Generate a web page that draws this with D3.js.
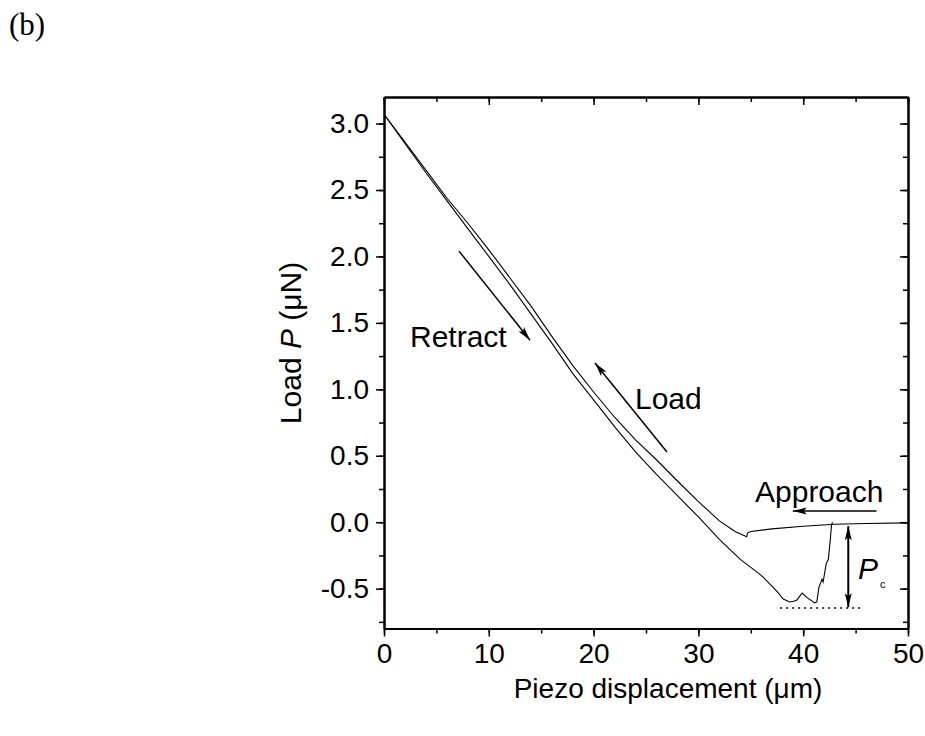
<!DOCTYPE html>
<html>
<head>
<meta charset="utf-8">
<script src="https://cdn.jsdelivr.net/npm/d3@7"></script>
<style>
  body { margin: 0; background: #fff; }
  text { font-family: "Liberation Sans", Arial, sans-serif; }
</style>
</head>
<body>
<div id="chart"></div>
<script>
// load curve (approach + loading), read right to left
let loadX = [50, 46, 43, 40, 37, 35, 34.7, 34.6, 33.5, 32, 30, 28, 26, 24, 22, 20, 18, 16, 14, 12, 10, 8, 6, 4, 2, 0]
let loadY = [-0.005, -0.01, -0.015, -0.03, -0.05, -0.07, -0.08, -0.11, -0.07, 0.01, 0.155, 0.31, 0.47, 0.62, 0.79, 0.98, 1.18, 1.40, 1.63, 1.84, 2.05, 2.25, 2.44, 2.65, 2.86, 3.07]

// retract curve, left to right
let retractX = [0, 2, 4, 6, 8, 10, 12, 14, 16, 18, 20, 22, 24, 26, 28, 30, 32, 34, 36, 37.5, 38.1, 38.7, 39.1, 39.4, 39.9, 40.4, 41.1, 41.3, 41.5, 41.8, 41.9, 42.2, 42.4, 42.6, 42.7, 42.8]
let retractY = [3.07, 2.85, 2.63, 2.42, 2.21, 2.0, 1.79, 1.57, 1.35, 1.12, 0.92, 0.72, 0.53, 0.36, 0.2, 0.04, -0.13, -0.28, -0.40, -0.52, -0.578, -0.60, -0.595, -0.585, -0.533, -0.57, -0.607, -0.60, -0.49, -0.43, -0.45, -0.31, -0.28, -0.12, -0.02, 0.0]

let xTicks = [0, 10, 20, 30, 40, 50]
let yTicks = [-0.5, 0.0, 0.5, 1.0, 1.5, 2.0, 2.5, 3.0]

// arrows: [x1, y1, x2, y2] in data units, head at x2,y2
let retractArrow = [7.16, 2.04, 13.93, 1.37]
let loadArrow = [27.0, 0.528, 20.13, 1.198]
let approachArrow = [47.0, 0.084, 39.0, 0.084]
let pcArrow = [44.3, -0.03, 44.3, -0.64]
let pcBase = [37.8, 45.7, -0.646]

let width = 925
let height = 736

let svg = d3.select('#chart')
            .append('svg')
            .attr('width', width)
            .attr('height', height)

let x = d3.scaleLinear()
          .domain([0, 50])
          .range([384, 908])
let y = d3.scaleLinear()
          .domain([-0.8, 3.2])
          .range([628.5, 97])

let minorX = d3.range(0, 50.1, 5)
let minorY = d3.range(-0.75, 3.21, 0.25)

function styleAxis(g) {
    g.select('.domain').attr('stroke-width', 2)
    g.selectAll('.tick line').attr('stroke-width', 1.5)
    g.selectAll('.tick text').style('font-size', '28px').attr('fill', '#000')
}

// minor ticks first
svg.append('g')
    .attr('transform', 'translate(0,628.5)')
    .call(d3.axisBottom(x).tickValues(minorX).tickSize(5).tickFormat('').tickSizeOuter(0))
    .call(styleAxis)
svg.append('g')
    .attr('transform', 'translate(384,0)')
    .call(d3.axisLeft(y).tickValues(minorY).tickSize(5).tickFormat('').tickSizeOuter(0))
    .call(styleAxis)
svg.append('g')
    .attr('transform', 'translate(0,97)')
    .call(d3.axisTop(x).tickValues(minorX).tickSize(-5).tickFormat('').tickSizeOuter(0))
    .call(styleAxis)
svg.append('g')
    .attr('transform', 'translate(908,0)')
    .call(d3.axisRight(y).tickValues(minorY).tickSize(-5).tickFormat('').tickSizeOuter(0))
    .call(styleAxis)

// major ticks
svg.append('g')
    .attr('transform', 'translate(0,628.5)')
    .call(d3.axisBottom(x).tickValues(xTicks).tickSize(8).tickPadding(7).tickFormat(d3.format('d')).tickSizeOuter(0))
    .call(styleAxis)
svg.append('g')
    .attr('transform', 'translate(384,0)')
    .call(d3.axisLeft(y).tickValues(yTicks).tickSize(8).tickPadding(7).tickFormat(d3.format('.1f')).tickSizeOuter(0))
    .call(styleAxis)
svg.append('g')
    .attr('transform', 'translate(0,97)')
    .call(d3.axisTop(x).tickValues(xTicks).tickSize(-8).tickFormat('').tickSizeOuter(0))
    .call(styleAxis)
svg.append('g')
    .attr('transform', 'translate(908,0)')
    .call(d3.axisRight(y).tickValues(yTicks).tickSize(-8).tickFormat('').tickSizeOuter(0))
    .call(styleAxis)

// use hyphen-minus like the original
svg.selectAll('.tick text').text(function() { return d3.select(this).text().replace('\u2212', '-') })

// curves
let line = d3.line()
    .x(d => x(d[0]))
    .y(d => y(d[1]))

svg.append('path')
    .datum(d3.zip(loadX, loadY))
    .attr('d', line)
    .attr('fill', 'none')
    .attr('stroke', '#000')
    .attr('stroke-width', 1.1)

svg.append('path')
    .datum(d3.zip(retractX, retractY))
    .attr('d', line)
    .attr('fill', 'none')
    .attr('stroke', '#000')
    .attr('stroke-width', 1.1)

// arrow markers
let defs = svg.append('defs')
defs.append('marker')
    .attr('id', 'head')
    .attr('viewBox', '0 0 14 8')
    .attr('refX', 14)
    .attr('refY', 4)
    .attr('markerWidth', 14)
    .attr('markerHeight', 8)
    .attr('markerUnits', 'userSpaceOnUse')
    .attr('orient', 'auto-start-reverse')
    .append('path')
    .attr('d', 'M0,0.5 L14,4 L0,7.5 L3,4 Z')
    .attr('fill', '#000')

function arrow(a, w, both) {
    let p = svg.append('line')
        .attr('x1', x(a[0])).attr('y1', y(a[1]))
        .attr('x2', x(a[2])).attr('y2', y(a[3]))
        .attr('stroke', '#000')
        .attr('stroke-width', w)
        .attr('marker-end', 'url(#head)')
    if (both) p.attr('marker-start', 'url(#head)')
}
arrow(retractArrow, 1.5)
arrow(loadArrow, 1.5)
arrow(approachArrow, 1.5)
arrow(pcArrow, 2, true)

svg.append('line')
    .attr('x1', x(pcBase[0])).attr('x2', x(pcBase[1]))
    .attr('y1', y(pcBase[2])).attr('y2', y(pcBase[2]))
    .attr('stroke', '#000')
    .attr('stroke-width', 1.5)
    .attr('stroke-dasharray', '2,4')

// annotation text
svg.append('text').attr('x', 410).attr('y', 347).style('font-size', '30px').text('Retract')
svg.append('text').attr('x', 635).attr('y', 409).style('font-size', '30px').text('Load')
svg.append('text').attr('x', 755).attr('y', 502).style('font-size', '30px').text('Approach')
let pc = svg.append('text').attr('x', 858).attr('y', 579).style('font-size', '30px')
pc.append('tspan').style('font-style', 'italic').text('P')
pc.append('tspan').attr('dx', 2).attr('dy', 9).style('font-size', '11px').text('c')

// axis titles
svg.append('text')
    .attr('x', 668).attr('y', 698)
    .attr('text-anchor', 'middle')
    .style('font-size', '28px')
    .text('Piezo displacement (\u03bcm)')

let yt = svg.append('text')
    .attr('transform', 'translate(301,343) rotate(-90)')
    .attr('text-anchor', 'middle')
    .style('font-size', '30px')
yt.append('tspan').text('Load ')
yt.append('tspan').style('font-style', 'italic').text('P')
yt.append('tspan').text(' (\u03bcN)')

svg.append('text')
    .attr('x', 9).attr('y', 35)
    .style('font-family', '"Liberation Serif", "Times New Roman", serif')
    .style('font-size', '31px')
    .text('(b)')
</script>
</body>
</html>
